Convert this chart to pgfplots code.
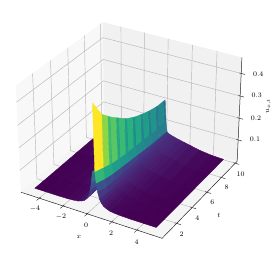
\documentclass[border=0pt]{standalone}
\usepackage{pgfplots}
\pgfplotsset{compat=1.18}
\pgfplotsset{table/persp/.style={
  x expr={vpx(\thisrow{x},\thisrow{t},\thisrow{u})},
  y expr={vpy(\thisrow{x},\thisrow{t},\thisrow{u})},
  z expr={0}}}
\definecolor{gridc}{gray}{0.72}
\newcommand{\lab}[3]{\node[font=\fontsize{7.5}{9}\selectfont,inner sep=0pt] at (axis cs:#1,#2,0) {#3};}
\begin{document}
\begin{tikzpicture}
\useasboundingbox (0,0) rectangle (273pt,255pt);
\begin{axis}[
  scale only axis, width=273pt, height=255pt,
  xmin=0, xmax=273, ymin=0, ymax=255, zmin=-1, zmax=1,
  view={0}{90}, hide axis, clip=false,
  colormap/viridis, point meta min=0, point meta max=1,
  declare function={
    nx(\x)=1.19*(\x+5.58)/11.56-0.595;
    ny(\y)=1.19*(\y-0.18)/10.1-0.595;
    nz(\z)=0.893*\z/0.47-0.4465;
    dep(\x,\y,\z)=1-(0.433*nx(\x)-0.75*ny(\y)+0.5*nz(\z))/10;
    vpx(\x,\y,\z)=131+136*(0.866*nx(\x)+0.5*ny(\y))/dep(\x,\y,\z);
    vpy(\x,\y,\z)=130+136*(-0.25*nx(\x)+0.433*ny(\y)+0.866*nz(\z))/dep(\x,\y,\z);
  },
]
% panes
\addplot3[fill={rgb,255:red,248;green,248;blue,248},draw=none] table[persp,row sep=\\]{x t u\\ -5.58 0.18 0\\ -5.58 10.28 0\\ -5.58 10.28 0.47\\ -5.58 0.18 0.47\\};
\addplot3[fill={rgb,255:red,241;green,241;blue,241},draw=none] table[persp,row sep=\\]{x t u\\ -5.58 10.28 0\\ 5.98 10.28 0\\ 5.98 10.28 0.47\\ -5.58 10.28 0.47\\};
\addplot3[fill={rgb,255:red,245;green,245;blue,245},draw=none] table[persp,row sep=\\]{x t u\\ -5.58 0.18 0\\ 5.98 0.18 0\\ 5.98 10.28 0\\ -5.58 10.28 0\\};
% grid
\addplot3[gridc,line width=0.45pt,empty line=jump] table[persp]{
x t u
-4 0.18 0
-4 10.28 0
-4 10.28 0.47

-2 0.18 0
-2 10.28 0
-2 10.28 0.47

0 0.18 0
0 10.28 0
0 10.28 0.47

2 0.18 0
2 10.28 0
2 10.28 0.47

4 0.18 0
4 10.28 0
4 10.28 0.47

5.98 2 0
-5.58 2 0
-5.58 2 0.47

5.98 4 0
-5.58 4 0
-5.58 4 0.47

5.98 6 0
-5.58 6 0
-5.58 6 0.47

5.98 8 0
-5.58 8 0
-5.58 8 0.47

5.98 10 0
-5.58 10 0
-5.58 10 0.47

-5.58 0.18 0.1
-5.58 10.28 0.1
5.98 10.28 0.1

-5.58 0.18 0.2
-5.58 10.28 0.2
5.98 10.28 0.2

-5.58 0.18 0.3
-5.58 10.28 0.3
5.98 10.28 0.3

-5.58 0.18 0.4
-5.58 10.28 0.4
5.98 10.28 0.4
};
% axis lines and ticks
\addplot3[black!85,line width=0.5pt] table[persp,row sep=\\]{x t u\\ -5.58 0.18 0\\ 5.98 0.18 0\\ 5.98 10.28 0\\ 5.98 10.28 0.47\\};
\addplot3[black!85,line width=0.45pt,empty line=jump] table[persp]{
x t u
-4 0.33 0
-4 -0.12 0

-2 0.33 0
-2 -0.12 0

0 0.33 0
0 -0.12 0

2 0.33 0
2 -0.12 0

4 0.33 0
4 -0.12 0

5.83 2 0
6.3 2 0

5.83 4 0
6.3 4 0

5.83 6 0
6.3 6 0

5.83 8 0
6.3 8 0

5.83 10 0
6.3 10 0

5.83 10.28 0.1
6.3 10.28 0.1

5.83 10.28 0.2
6.3 10.28 0.2

5.83 10.28 0.3
6.3 10.28 0.3

5.83 10.28 0.4
6.3 10.28 0.4
};
% surface, x<0
\addplot3[surf,shader=flat mean,line width=0.4pt,z buffer=none,mesh/rows=4,mesh/cols=13,point meta={\thisrow{u}/0.33}] table[persp,row sep=\\]{
x t u\\
-5 10 .002\\ -4 10 .005\\ -3 10 .012\\ -2.2 10 .022\\ -1.7 10 .028\\ -1.3 10 .033\\ -1 10 .037\\ -.8 10 .040\\ -.6 10 .043\\ -.45 10 .046\\ -.3 10 .050\\ -.2 10 .055\\ -.1 10 .098\\
-5 6 .001\\ -4 6 .002\\ -3 6 .004\\ -2.2 6 .010\\ -1.7 6 .016\\ -1.3 6 .021\\ -1 6 .027\\ -.8 6 .031\\ -.6 6 .037\\ -.45 6 .043\\ -.3 6 .052\\ -.2 6 .070\\ -.1 6 .112\\
-5 3 0\\ -4 3 0\\ -3 3 .001\\ -2.2 3 .003\\ -1.7 3 .006\\ -1.3 3 .011\\ -1 3 .017\\ -.8 3 .023\\ -.6 3 .031\\ -.45 3 .040\\ -.3 3 .057\\ -.2 3 .085\\ -.1 3 .13\\
-5 1 0\\ -4 1 0\\ -3 1 0\\ -2.2 1 .001\\ -1.7 1 .003\\ -1.3 1 .006\\ -1 1 .012\\ -.8 1 .018\\ -.6 1 .030\\ -.45 1 .045\\ -.3 1 .075\\ -.2 1 .11\\ -.1 1 .16\\
};
% ridge wall, x from 0 to 0.1
\addplot3[patch,patch type=rectangle,shader=flat mean,point meta={\thisrow{c}}] table[persp,row sep=\\]{
x t u c\\
0 9.7 .202 .38\\ 0 10 .201 .38\\ .1 10 .098 .38\\ .1 9.7 .099 .38\\
0 9 .203 .47\\ 0 9.7 .202 .47\\ .1 9.7 .099 .47\\ .1 9 .1 .47\\
0 8.7 .206 .40\\ 0 9 .203 .40\\ .1 9 .1 .40\\ .1 8.7 .101 .40\\
0 8 .213 .52\\ 0 8.7 .206 .52\\ .1 8.7 .101 .52\\ .1 8 .104 .52\\
0 7.7 .217 .43\\ 0 8 .213 .43\\ .1 8 .104 .43\\ .1 7.7 .105 .43\\
0 7 .227 .55\\ 0 7.7 .217 .55\\ .1 7.7 .105 .55\\ .1 7 .108 .55\\
0 6.7 .232 .46\\ 0 7 .227 .46\\ .1 7 .108 .46\\ .1 6.7 .109 .46\\
0 6 .244 .60\\ 0 6.7 .232 .60\\ .1 6.7 .109 .60\\ .1 6 .112 .60\\
0 5.7 .251 .50\\ 0 6 .244 .50\\ .1 6 .112 .50\\ .1 5.7 .113 .50\\
0 5 .267 .63\\ 0 5.7 .251 .63\\ .1 5.7 .113 .63\\ .1 5 .117 .63\\
0 4.7 .277 .55\\ 0 5 .267 .55\\ .1 5 .117 .55\\ .1 4.7 .118 .55\\
0 4 .301 .68\\ 0 4.7 .277 .68\\ .1 4.7 .118 .68\\ .1 4 .122 .68\\
0 3.7 .311 .60\\ 0 4 .301 .60\\ .1 4 .122 .60\\ .1 3.7 .124 .60\\
0 3 .336 .74\\ 0 3.7 .311 .74\\ .1 3.7 .124 .74\\ .1 3 .13 .74\\
0 2.7 .349 .68\\ 0 3 .336 .68\\ .1 3 .13 .68\\ .1 2.7 .135 .68\\
0 2 .378 .83\\ 0 2.7 .349 .83\\ .1 2.7 .135 .83\\ .1 2 .145 .83\\
0 1 .456 1\\ 0 2 .378 1\\ .1 2 .145 1\\ .1 1 .16 1\\
};
% band from x=0.1 to 0.2
\addplot3[patch,patch type=rectangle,shader=flat mean,point meta={\thisrow{c}}] table[persp,row sep=\\]{
x t u c\\
.1 9 .1 .42\\ .1 10 .098 .42\\ .2 10 .055 .42\\ .2 9 .057 .42\\
.1 8 .104 .43\\ .1 9 .1 .43\\ .2 9 .057 .43\\ .2 8 .06 .43\\
.1 7 .108 .45\\ .1 8 .104 .45\\ .2 8 .06 .45\\ .2 7 .065 .45\\
.1 6 .112 .47\\ .1 7 .108 .47\\ .2 7 .065 .47\\ .2 6 .07 .47\\
.1 5 .117 .50\\ .1 6 .112 .50\\ .2 6 .07 .50\\ .2 5 .075 .50\\
.1 4 .122 .52\\ .1 5 .117 .52\\ .2 5 .075 .52\\ .2 4 .08 .52\\
.1 3 .13 .55\\ .1 4 .122 .55\\ .2 4 .08 .55\\ .2 3 .085 .55\\
.1 2 .145 .60\\ .1 3 .13 .60\\ .2 3 .085 .60\\ .2 2 .095 .60\\
.1 1 .16 .66\\ .1 2 .145 .66\\ .2 2 .095 .66\\ .2 1 .11 .66\\
};
% surface, x>0.2
\addplot3[surf,shader=flat mean,line width=0.4pt,z buffer=none,mesh/rows=7,mesh/cols=12,point meta={\thisrow{u}/0.33}] table[persp,row sep=\\]{
x t u\\
.2 10 .055\\ .3 10 .050\\ .45 10 .046\\ .6 10 .043\\ .8 10 .040\\ 1 10 .037\\ 1.3 10 .033\\ 1.7 10 .028\\ 2.2 10 .022\\ 3 10 .012\\ 4 10 .005\\ 5 10 .002\\
.2 8 .060\\ .3 8 .050\\ .45 8 .044\\ .6 8 .040\\ .8 8 .036\\ 1 8 .032\\ 1.3 8 .027\\ 1.7 8 .022\\ 2.2 8 .016\\ 3 8 .008\\ 4 8 .003\\ 5 8 .001\\
.2 6 .070\\ .3 6 .052\\ .45 6 .043\\ .6 6 .037\\ .8 6 .031\\ 1 6 .027\\ 1.3 6 .021\\ 1.7 6 .016\\ 2.2 6 .010\\ 3 6 .004\\ 4 6 .002\\ 5 6 .001\\
.2 4 .080\\ .3 4 .055\\ .45 4 .042\\ .6 4 .034\\ .8 4 .026\\ 1 4 .021\\ 1.3 4 .015\\ 1.7 4 .009\\ 2.2 4 .005\\ 3 4 .002\\ 4 4 .001\\ 5 4 0\\
.2 3 .085\\ .3 3 .057\\ .45 3 .040\\ .6 3 .031\\ .8 3 .023\\ 1 3 .017\\ 1.3 3 .011\\ 1.7 3 .006\\ 2.2 3 .003\\ 3 3 .001\\ 4 3 0\\ 5 3 0\\
.2 2 .095\\ .3 2 .060\\ .45 2 .040\\ .6 2 .029\\ .8 2 .019\\ 1 2 .013\\ 1.3 2 .007\\ 1.7 2 .004\\ 2.2 2 .002\\ 3 2 0\\ 4 2 0\\ 5 2 0\\
.2 1 .110\\ .3 1 .075\\ .45 1 .045\\ .6 1 .030\\ .8 1 .018\\ 1 1 .012\\ 1.3 1 .006\\ 1.7 1 .003\\ 2.2 1 .001\\ 3 1 0\\ 4 1 0\\ 5 1 0\\
};
% tick labels
\lab{35}{46.7}{$-4$}
\lab{61}{38}{$-2$}
\lab{86}{30}{$0$}
\lab{111}{21.3}{$2$}
\lab{136.7}{12.7}{$4$}
\lab{79}{18}{$x$}
\lab{181.7}{21}{$2$}
\lab{197.3}{36.7}{$4$}
\lab{212.3}{52.3}{$6$}
\lab{226.7}{67.3}{$8$}
\lab{240.7}{81}{$10$}
\lab{219}{40}{$t$}
\lab{255}{115.7}{$0.1$}
\lab{256}{137}{$0.2$}
\lab{256.7}{159.3}{$0.3$}
\lab{258.3}{181}{$0.4$}
\node[font=\fontsize{7}{9}\selectfont,inner sep=0pt,rotate=90] at (axis cs:268.5,149,0) {$u_{x,t}$};
\end{axis}
\end{tikzpicture}
\end{document}
